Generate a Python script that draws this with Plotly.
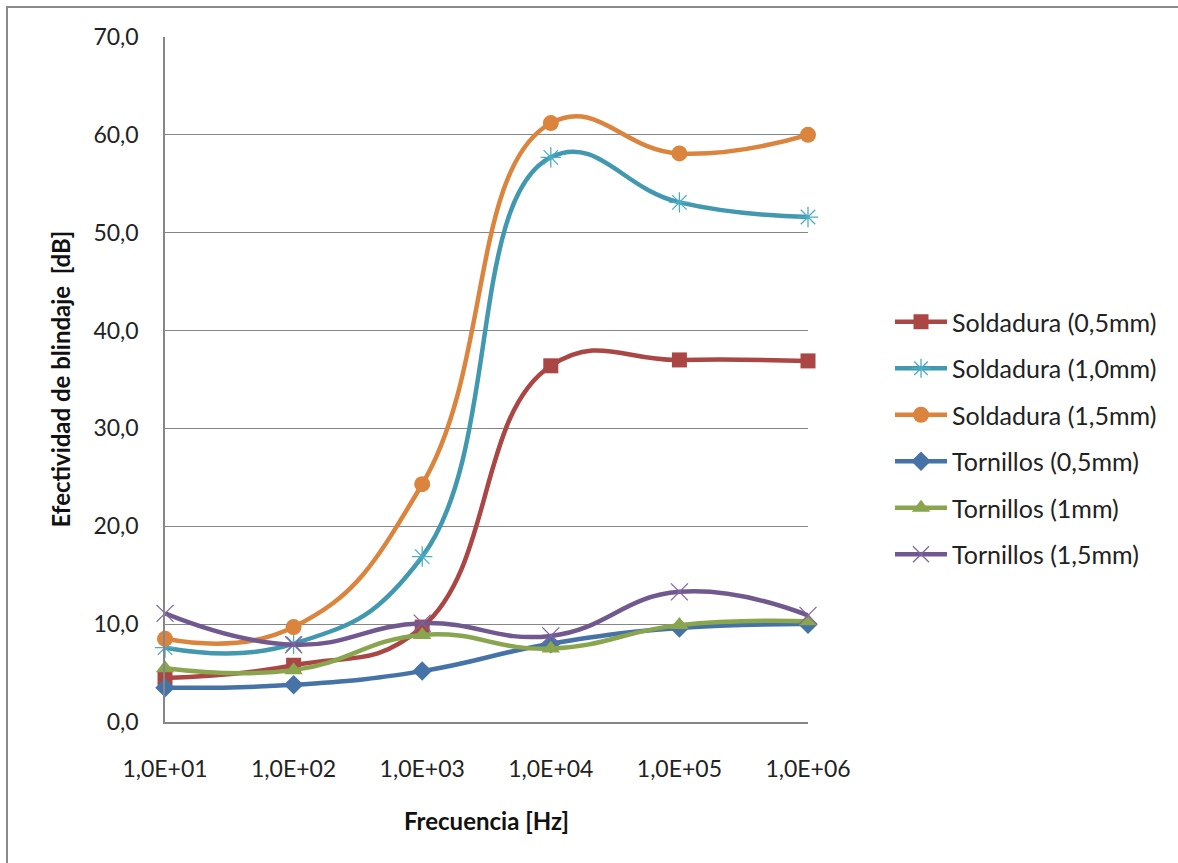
import plotly.graph_objects as go

# Frequencies [Hz] and tick labels
freq = [1e1, 1e2, 1e3, 1e4, 1e5, 1e6]
freq_labels = ["1,0E+01", "1,0E+02", "1,0E+03", "1,0E+04", "1,0E+05", "1,0E+06"]

# Shielding effectiveness [dB]
sold_05 = [4.5, 5.8, 9.7, 36.4, 37.0, 36.9]
sold_10 = [7.6, 8.0, 16.9, 57.7, 53.1, 51.6]
sold_15 = [8.5, 9.7, 24.3, 61.2, 58.1, 60.0]
torn_05 = [3.5, 3.8, 5.2, 8.0, 9.6, 10.0]
torn_10 = [5.5, 5.3, 8.9, 7.5, 9.9, 10.3]
torn_15 = [11.1, 7.9, 10.1, 8.8, 13.3, 10.9]

series = [
    ("Soldadura (0,5mm)", sold_05, "#AA4643", "square", 15, "#AA4643", 0),
    ("Soldadura (1,0mm)", sold_10, "#4198AF", "asterisk-open", 17, "#4BACC6", 1.3),
    ("Soldadura (1,5mm)", sold_15, "#DB843D", "circle", 16, "#DB843D", 0),
    ("Tornillos (0,5mm)", torn_05, "#4572A7", "diamond", 15, "#4572A7", 0),
    ("Tornillos (1mm)", torn_10, "#89A54E", "triangle-up", 16, "#89A54E", 0),
    ("Tornillos (1,5mm)", torn_15, "#71588F", "x-thin-open", 17, "#8064A2", 1.3),
]

FONT = "Lato, Open Sans, sans-serif"
GRID = "#868686"

fig = go.Figure()
for i, (name, vals, color, symbol, size, mcolor, mlw) in enumerate(series):
    fig.add_trace(go.Scatter(
        x=freq, y=vals, name=name, mode="lines+markers",
        legendgroup=f"g{i}",
        line=dict(color=color, width=4.5, shape="spline", smoothing=1.3),
        marker=dict(symbol=symbol, size=size, color=mcolor,
                    line=dict(color=mcolor, width=mlw)),
        cliponaxis=False,
    ))

W, H = 1178, 863
L, R, T, B = 165, 370, 37, 141
pw, ph = W - L - R, H - T - B

def px_x(p):
    return (p - L) / pw

def px_y(p):
    return (H - B - p) / ph

fig.update_layout(
    width=W, height=H,
    margin=dict(l=L, r=R, t=T, b=B),
    paper_bgcolor="white", plot_bgcolor="white",
    separators=",.",
    font=dict(family=FONT, size=23, color="#222222"),
    showlegend=True,
    legend=dict(
        x=px_x(890), y=px_y(438), xanchor="left", yanchor="middle",
        font=dict(family=FONT, size=25, color="#222222"),
        tracegroupgap=11, itemwidth=52,
        bgcolor="rgba(0,0,0,0)",
    ),
    xaxis=dict(
        type="log", range=[1, 6],
        tickvals=freq, ticktext=freq_labels,
        showgrid=False, zeroline=False,
        showline=True, linecolor=GRID, linewidth=1.5,
        ticks="", ticklabelstandoff=26,
        tickfont=dict(family=FONT, size=23, color="#222222"),
    ),
    yaxis=dict(
        range=[0, 70], dtick=10, tickformat=".1f",
        showgrid=True, gridcolor=GRID, gridwidth=1.2,
        zeroline=False,
        showline=True, linecolor=GRID, linewidth=1.5,
        ticks="", ticklabelstandoff=20,
        tickfont=dict(family=FONT, size=23, color="#222222"),
    ),
    annotations=[
        dict(text="<b>Frecuencia [Hz]</b>", xref="paper", yref="paper",
             x=0.5, y=px_y(820), xanchor="center", yanchor="middle",
             showarrow=False, font=dict(family=FONT, size=24, color="#111111")),
        dict(text="<b>Efectividad de blindaje  [dB]</b>", xref="paper", yref="paper",
             x=px_x(60), y=0.5, xanchor="center", yanchor="middle", textangle=-90,
             showarrow=False, font=dict(family=FONT, size=24, color="#111111")),
    ],
    shapes=[
        dict(type="line", xref="paper", yref="paper",
             x0=px_x(6), x1=px_x(W + 5), y0=px_y(7), y1=px_y(7),
             line=dict(color="#8a8a8a", width=2)),
        dict(type="line", xref="paper", yref="paper",
             x0=px_x(7), x1=px_x(7), y0=px_y(6), y1=px_y(H + 5),
             line=dict(color="#8a8a8a", width=2)),
    ],
)

fig.write_html("out.html")
